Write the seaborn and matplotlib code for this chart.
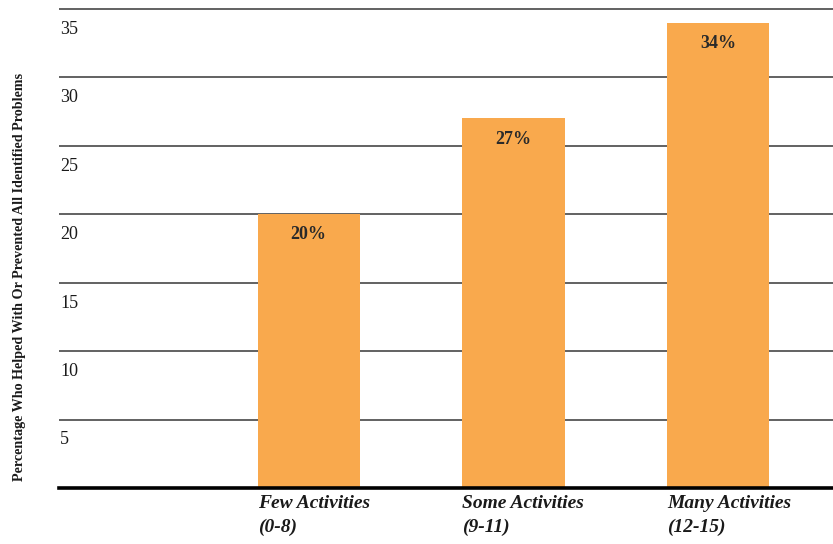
import matplotlib.pyplot as plt
import matplotlib.transforms as mtransforms
import numpy as np
import pandas as pd
import seaborn as sns

categories = ["Few Activities\n(0-8)", "Some Activities\n(9-11)", "Many Activities\n(12-15)"]
percentages = [20, 27, 34]
bar_labels = ["20%", "27%", "34%"]
y_ticks = [5, 10, 15, 20, 25, 30, 35]

BAR_COLOR = "#F9A94D"
BAR_WIDTH = 0.5


def main():
    sns.set_theme(style="white")
    plt.rcParams['font.family'] = ['Liberation Serif', 'DejaVu Serif']

    df = pd.DataFrame({"group": categories, "pct": percentages})

    fig = plt.figure(figsize=(8.33, 5.44), dpi=100)
    ax = fig.add_axes([0.0708, 0.1029, 0.929, 0.8932])

    sns.barplot(data=df, x="group", y="pct", color=BAR_COLOR, saturation=1,
                width=BAR_WIDTH, linewidth=0, ax=ax, zorder=3)

    ax.set_ylim(0, 35.5)
    ax.set_xlim(-1.22, 2.56)

    # gridlines under the bars
    for v in y_ticks:
        ax.axhline(v, color="#555555", linewidth=1.3, zorder=1)

    for side in ["top", "right", "left"]:
        ax.spines[side].set_visible(False)
    ax.spines["bottom"].set_color("black")
    ax.spines["bottom"].set_linewidth(2.6)
    ax.spines["bottom"].set_zorder(4)

    # y tick labels sit inside the plot, just below each gridline
    ax.set_yticks(y_ticks)
    ax.set_yticklabels([str(t) for t in y_ticks], fontsize=13, color="#1a1a1a")
    ax.tick_params(axis="y", length=0, pad=0)
    shift = mtransforms.ScaledTranslation(1 / 72, -8.5 / 72, fig.dpi_scale_trans)
    for lbl in ax.get_yticklabels():
        lbl.set_horizontalalignment("left")
        lbl.set_verticalalignment("top")
        lbl.set_transform(lbl.get_transform() + shift)

    # x labels left-aligned with the bar edges
    ax.set_xticks(np.arange(len(categories)) - BAR_WIDTH / 2)
    ax.set_xticklabels(categories, fontsize=14, fontweight="bold",
                       fontstyle="italic", ha="left", linespacing=1.5,
                       color="#1a1a1a")
    ax.tick_params(axis="x", length=0, pad=5)
    ax.set_xlabel("")

    ax.set_ylabel("Percentage Who Helped With Or Prevented All Identified Problems",
                  fontsize=10.2, fontweight="bold", color="#1a1a1a")
    ax.yaxis.set_label_coords(-0.042, 0.434)

    ax.bar_label(ax.containers[0], labels=bar_labels, padding=-21,
                 fontsize=13, fontweight="bold", color="#2a2a2a", zorder=5)

    fig.savefig("out.png", dpi=100)
    plt.close(fig)


if __name__ == '__main__':
    main()
